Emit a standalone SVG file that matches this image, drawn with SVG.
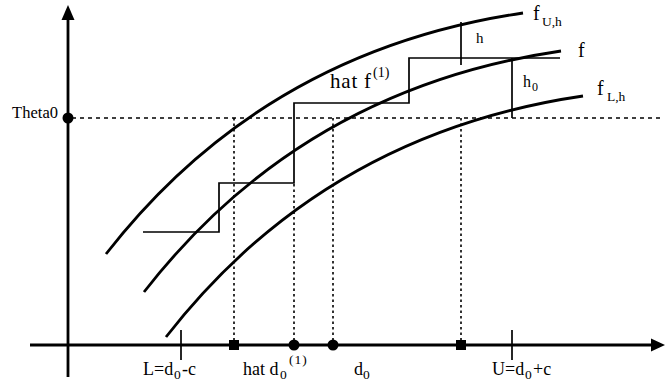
<svg xmlns="http://www.w3.org/2000/svg" width="665" height="388" viewBox="0 0 665 388">
<style>
text{font-family:"Liberation Serif","Times New Roman",serif;fill:#000}
.t{font-size:18px}
.s{font-size:13.5px}
.axis{stroke:#000;stroke-width:2.8;fill:none}
.curve{stroke:#000;stroke-width:2.8;fill:none}
.thin{stroke:#000;stroke-width:1.7;fill:none}
.dash{stroke:#000;stroke-width:1.6;fill:none;stroke-dasharray:4 4}
.dot{stroke:#000;stroke-width:1.6;fill:none;stroke-dasharray:2.5 3}
</style>
<rect width="665" height="388" fill="#fff"/>
<g id="axes">
<line class="axis" x1="68" y1="377" x2="68" y2="16"/>
<polygon points="68,5 61.5,20 74.5,20" fill="#000"/>
<line class="axis" x1="30" y1="345" x2="654" y2="345"/>
<polygon points="665,345 651,338.5 651,351.5" fill="#000"/>
<line class="thin" x1="181" y1="330" x2="181" y2="360"/>
<line class="thin" x1="512" y1="330" x2="512" y2="360"/>
</g>
<g id="guides">
<line class="dash" x1="72" y1="118" x2="660" y2="118"/>
<line class="dot" x1="234" y1="118" x2="234" y2="342"/>
<line class="dot" x1="294" y1="184" x2="294" y2="342"/>
<line class="dot" x1="333" y1="118" x2="333" y2="342"/>
<line class="dot" x1="461" y1="118" x2="461" y2="342"/>
</g>
<g id="curves">
<path class="curve" d="M106,254 Q264,51 523,13"/>
<path class="curve" d="M144,292 Q302,89 561,51"/>
<path class="curve" d="M166,337 Q324,134 583,96"/>
</g>
<g id="staircase">
<path class="thin" d="M143,232 H219 V183 H294 V103 H409 V58 H560"/>
<line class="thin" x1="461" y1="22" x2="461" y2="65"/>
<line class="thin" x1="512" y1="58" x2="512" y2="118"/>
</g>
<g id="markers">
<circle cx="68" cy="118" r="5.5" fill="#000"/>
<rect x="229" y="340" width="10" height="10" fill="#000"/>
<circle cx="294" cy="345" r="5.5" fill="#000"/>
<circle cx="333" cy="345" r="5.5" fill="#000"/>
<rect x="456" y="340" width="10" height="10" fill="#000"/>
</g>
<g id="labels">
<text x="12" y="118" font-size="16.5" textLength="46">Theta0</text>
<text x="533" y="20" font-size="20">f</text>
<text class="s" x="542" y="26">U,h</text>
<text x="578" y="57" font-size="20">f</text>
<text x="597" y="95" font-size="20">f</text>
<text class="s" x="607" y="101">L,h</text>
<text x="476" y="43" font-size="15">h</text>
<text x="523" y="87" font-size="16">h</text>
<text x="532" y="91" font-size="12">0</text>
<text x="330" y="88" font-size="21" letter-spacing="0.8">hat</text>
<text x="364" y="88" font-size="21">f</text>
<text x="373" y="77" font-size="14">(1)</text>
<text class="t" x="143" y="375">L=d</text>
<text class="s" x="174" y="379">0</text>
<text class="t" x="182" y="375">-c</text>
<text class="t" x="243" y="375">hat d</text>
<text class="s" x="280" y="379">0</text>
<text class="s" x="289" y="364" letter-spacing="1">(1)</text>
<text class="t" x="354" y="375">d</text>
<text class="s" x="363" y="379">0</text>
<text class="t" x="492" y="375">U=d</text>
<text class="s" x="525" y="379">0</text>
<text class="t" x="533" y="375">+c</text>
</g>
</svg>
